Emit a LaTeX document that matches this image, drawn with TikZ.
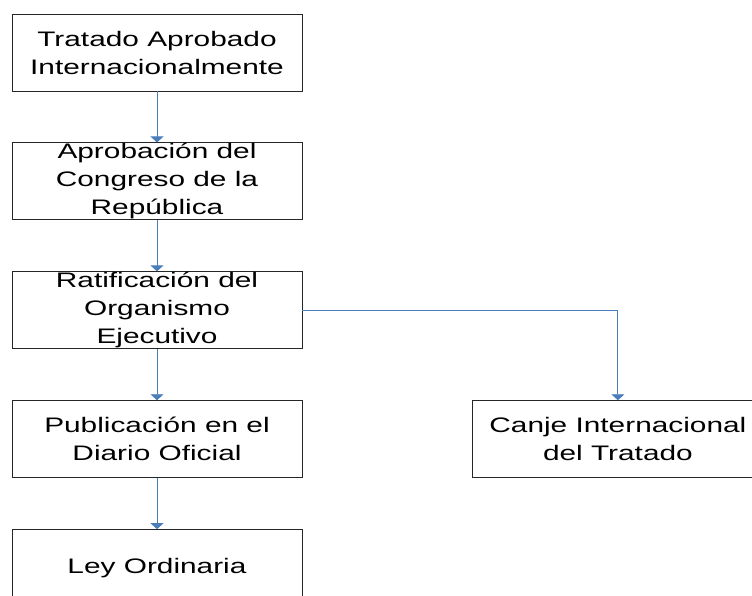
\documentclass[tikz,border=0pt]{standalone}
\usepackage{fontspec}
\setmainfont[FakeStretch=1.42]{Liberation Sans}
\usetikzlibrary{positioning,arrows.meta}
\definecolor{azul}{HTML}{4A7EBB}

\begin{document}
\begin{tikzpicture}[x=1pt,y=-1pt,
    paso/.style={draw=black!85,line width=0.9pt,minimum width=290pt,minimum height=77pt,
        inner sep=0pt,align=center,font=\fontsize{21}{28}\selectfont},
    flecha/.style={draw=azul,line width=0.9pt,-{Triangle[width=13pt,length=6pt]}},
    node distance=51pt]
    \useasboundingbox (0,0) rectangle (752,596);
    \clip (0,0) rectangle (752,596);
    \node[paso] (T1) at (157,52.5) {Tratado Aprobado\\Internacionalmente};
    \node[paso] (T2) [below=of T1] {Aprobación del\\Congreso de la\\República};
    \node[paso] (T3) [below=of T2] {Ratificación del\\Organismo\\Ejecutivo};
    \node[paso] (T4) [below=of T3] {Publicación en el\\Diario Oficial};
    \node[paso] (T5) [below=of T4] {Ley Ordinaria};
    \node[paso] (T6) [right=170pt of T4] {Canje Internacional\\del Tratado};
    \draw[flecha] (T1) -- (T2);
    \draw[flecha] (T2) -- (T3);
    \draw[flecha] (T3) -- (T4);
    \draw[flecha] (T4) -- (T5);
    \draw[flecha] (T3) -| (T6);
\end{tikzpicture}
\end{document}
